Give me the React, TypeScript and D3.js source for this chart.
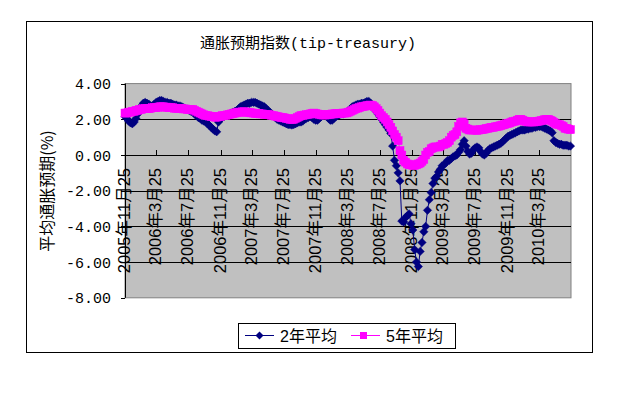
import React from "react";
import * as d3 from "d3";

const TITLE = "通胀预期指数(tip-treasury)";
const Y_TITLE = "平均通胀预期(%)";
const SERIES_NAMES = ["2年平均", "5年平均"];
const Y_TICKS = [4, 2, 0, -2, -4, -6, -8];
const X_DOMAIN = ["2005-11-25", "2010-07-25"];
const X_TICK_DATES = [
  "2005-11-25", "2006-03-25", "2006-07-25", "2006-11-25", "2007-03-25",
  "2007-07-25", "2007-11-25", "2008-03-25", "2008-07-25", "2008-11-25",
  "2009-03-25", "2009-07-25", "2009-11-25", "2010-03-25",
];
const X_TICK_LABELS = [
  "2005年11月25", "2006年3月25", "2006年7月25", "2006年11月25", "2007年3月25",
  "2007年7月25", "2007年11月25", "2008年3月25", "2008年7月25", "2008年11月25",
  "2009年3月25", "2009年7月25", "2009年11月25", "2010年3月25",
];
// weekly observations starting on this date
const FIRST_WEEK = "2005-11-25";
const DAYS_PER_STEP = 7;

const avg2y = [
  2.15, 2.05, 1.9, 1.8, 1.75, 1.85, 2.05, 2.3, 2.55, 2.75,
  2.9, 2.95, 2.9, 2.85, 2.75, 2.75, 2.85, 2.95, 3.0, 3.05,
  3.05, 3.0, 2.95, 2.95, 2.9, 2.9, 2.85, 2.8, 2.8, 2.75,
  2.75, 2.7, 2.65, 2.6, 2.55, 2.5, 2.45, 2.4, 2.3, 2.2,
  2.1, 2.05, 1.95, 1.9, 1.85, 1.75, 1.65, 1.55, 1.45, 1.35,
  1.3, 1.85, 2.0, 2.1, 2.15, 2.2, 2.25, 2.3, 2.35, 2.4,
  2.45, 2.5, 2.6, 2.7, 2.75, 2.8, 2.85, 2.9, 2.9, 2.95,
  2.95, 2.95, 2.9, 2.85, 2.8, 2.75, 2.7, 2.6, 2.5, 2.4,
  2.3, 2.2, 2.1, 2.0, 1.95, 1.9, 1.85, 1.8, 1.75, 1.7,
  1.7, 1.68, 1.7, 1.75, 1.8, 1.85, 1.85, 1.9, 2.0, 2.05,
  2.1, 2.15, 2.1, 2.0, 1.95, 1.95, 2.05, 2.15, 2.2, 2.25,
  2.2, 2.05, 1.95, 1.95, 2.05, 2.15, 2.2, 2.25, 2.3, 2.3,
  2.35, 2.4, 2.5, 2.6, 2.7, 2.75, 2.8, 2.85, 2.85, 2.9,
  2.9, 2.95, 3.0, 3.0, 2.9, 2.75, 2.6, 2.45, 2.3, 2.15,
  2.0, 1.85, 1.7, 1.55, 1.4, 1.2, 0.5, -0.3, -0.6, -1.0,
  -1.45, -3.7, -3.75, -3.5, -3.4, -3.3, -3.85, -4.2, -5.3, -6.0,
  -6.25, -5.4, -4.9, -4.3, -4.0, -3.1, -2.5, -2.1, -1.6, -1.3,
  -1.2, -0.95, -0.8, -0.6, -0.55, -0.45, -0.3, -0.3, -0.2, -0.1,
  -0.05, 0.0, 0.15, 0.3, 0.6, 0.8, 0.5, 0.2, 0.05, 0.1,
  0.3, 0.4, 0.45, 0.4, 0.2, 0.05, 0.0, 0.1, 0.25, 0.35,
  0.4, 0.45, 0.5, 0.55, 0.6, 0.65, 0.75, 0.85, 0.95, 1.05,
  1.1, 1.15, 1.2, 1.25, 1.3, 1.35, 1.4, 1.4, 1.4, 1.45,
  1.45, 1.5, 1.5, 1.55, 1.55, 1.6, 1.6, 1.6, 1.55, 1.5,
  1.45, 1.4, 1.35, 1.25, 0.8, 0.7, 0.65, 0.6, 0.6, 0.55,
  0.55, 0.55, 0.5, 0.5,
];

const avg5y = [
  2.35, 2.35, 2.4, 2.4, 2.45, 2.45, 2.5, 2.5, 2.55, 2.55,
  2.6, 2.6, 2.6, 2.6, 2.62, 2.65, 2.65, 2.65, 2.68, 2.7,
  2.7, 2.7, 2.68, 2.68, 2.65, 2.65, 2.65, 2.62, 2.62, 2.6,
  2.6, 2.6, 2.58, 2.58, 2.55, 2.55, 2.55, 2.55, 2.5, 2.45,
  2.4, 2.35, 2.3, 2.25, 2.22, 2.2, 2.18, 2.15, 2.15, 2.12,
  2.12, 2.15, 2.15, 2.2, 2.2, 2.22, 2.25, 2.28, 2.3, 2.32,
  2.35, 2.38, 2.4, 2.4, 2.42, 2.42, 2.4, 2.4, 2.38, 2.36,
  2.35, 2.33, 2.33, 2.32, 2.3, 2.3, 2.28, 2.27, 2.26, 2.25,
  2.22, 2.2, 2.18, 2.15, 2.13, 2.1, 2.1, 2.08, 2.05, 2.03,
  2.0, 2.0, 2.0, 2.05, 2.1, 2.15, 2.2, 2.22, 2.24, 2.26,
  2.28, 2.3, 2.33, 2.35, 2.33, 2.3, 2.28, 2.25, 2.24, 2.24,
  2.25, 2.27, 2.28, 2.3, 2.3, 2.32, 2.33, 2.33, 2.34, 2.35,
  2.35, 2.36, 2.4, 2.45, 2.5, 2.55, 2.6, 2.63, 2.66, 2.7,
  2.72, 2.74, 2.76, 2.78, 2.8, 2.78, 2.7, 2.6, 2.5, 2.35,
  2.2, 2.1, 2.0, 1.85, 1.7, 1.55, 1.35, 1.15, 1.0, 0.8,
  0.25, 0.0, -0.3, -0.4, -0.5, -0.55, -0.55, -0.58, -0.58, -0.55,
  -0.5, -0.45, -0.35, -0.25, 0.0, 0.15, 0.2, 0.35, 0.4, 0.45,
  0.45, 0.45, 0.5, 0.6, 0.6, 0.65, 0.7, 0.8, 1.0, 1.1,
  1.15, 1.3, 1.6, 1.8, 1.85, 1.75, 1.5, 1.45, 1.4, 1.4,
  1.4, 1.4, 1.38, 1.4, 1.42, 1.42, 1.45, 1.48, 1.5, 1.52,
  1.55, 1.55, 1.58, 1.6, 1.62, 1.65, 1.68, 1.7, 1.75, 1.78,
  1.8, 1.85, 1.88, 1.9, 1.95, 2.0, 2.0, 1.95, 1.9, 1.88,
  1.85, 1.85, 1.85, 1.85, 1.87, 1.88, 1.9, 1.92, 1.95, 1.98,
  2.0, 2.0, 1.95, 1.9, 1.82, 1.75, 1.72, 1.7, 1.65, 1.6,
  1.5, 1.48, 1.45, 1.42,
];

const NAVY = "#000080";
const MAGENTA = "#FF00FF";
const CJK = "'Noto Sans CJK SC', sans-serif";
const MONO = "'Liberation Mono', 'Noto Sans CJK SC', monospace";
const SANS = "'Liberation Sans', 'Noto Sans CJK SC', sans-serif";

const parse = d3.timeParse("%Y-%m-%d");

export default function App() {
  const W = 640;
  const H = 400;
  const pl = 125, pr = 571, pt = 83.6, pb = 297.8;

  const x = d3.scaleTime().domain(X_DOMAIN.map((d) => parse(d) as Date)).range([pl, pr]);
  const y = d3.scaleLinear().domain([-8, 4]).range([pb, pt]);

  const start = parse(FIRST_WEEK) as Date;
  const dates = avg2y.map((_, i) => d3.timeDay.offset(start, i * DAYS_PER_STEP));
  const s2 = avg2y.map((v, i) => ({ d: dates[i], v }));
  const s5 = avg5y.map((v, i) => ({ d: dates[i], v }));

  const line = d3
    .line<{ d: Date; v: number }>()
    .x((p) => x(p.d))
    .y((p) => y(p.v));

  const diamond = (cx: number, cy: number, r: number) =>
    `M${cx},${cy - r}L${cx + r},${cy}L${cx},${cy + r}L${cx - r},${cy}Z`;

  const y0 = y(0);
  const legendY = 335.5;

  return (
    <svg
      width={W}
      height={H}
      style={{ position: "absolute", left: 0, top: 0, display: "block", background: "#fff" }}
    >
      <rect x={26.5} y={21.5} width={566} height={331} fill="#fff" stroke="#000" strokeWidth={1} />
      <text x={308} y={48} textAnchor="middle" fontFamily={MONO} fontSize={15} fill="#000">
        {TITLE}
      </text>

      {/* plot area */}
      <rect x={pl} y={pt} width={pr - pl} height={pb - pt} fill="#C0C0C0" stroke="#808080" strokeWidth={1} />
      {Y_TICKS.filter((t) => t !== 4 && t !== -8).map((t) => (
        <line key={"g" + t} x1={pl} x2={pr} y1={Math.round(y(t)) + 0.5} y2={Math.round(y(t)) + 0.5} stroke="#000" strokeWidth={1} />
      ))}
      {/* y axis */}
      <line x1={pl + 0.5} x2={pl + 0.5} y1={pt} y2={pb} stroke="#000" strokeWidth={1} />
      {Y_TICKS.map((t) => (
        <g key={"yt" + t}>
          <line x1={pl - 4} x2={pl} y1={Math.round(y(t)) + 0.5} y2={Math.round(y(t)) + 0.5} stroke="#000" />
          <text x={111} y={y(t) + 5.5} textAnchor="end" fontFamily={MONO} fontSize={15} fill="#000">
            {t.toFixed(2)}
          </text>
        </g>
      ))}
      {/* x axis ticks & labels */}
      {X_TICK_DATES.map((ds, i) => {
        const tx = x(parse(ds) as Date);
        return (
          <g key={"xt" + ds}>
            <line x1={Math.round(tx) + 0.5} x2={Math.round(tx) + 0.5} y1={y0 - 5} y2={y0} stroke="#000" />
            <text
              transform={`translate(${tx + 5},168) rotate(-90)`}
              textAnchor="end"
              fontFamily={SANS}
              fontSize={16.5}
              fill="#000"
            >
              {X_TICK_LABELS[i]}
            </text>
          </g>
        );
      })}

      {/* y title */}
      <text
        transform={`translate(53,191) rotate(-90)`}
        textAnchor="middle"
        fontFamily={CJK}
        fontSize={16}
        fill="#000"
      >
        {Y_TITLE}
      </text>

      {/* series 2y */}
      <path d={line(s2) || ""} fill="none" stroke={NAVY} strokeWidth={1} />
      {s2.map((p, i) => (
        <path key={"m2" + i} d={diamond(x(p.d), y(p.v), 4.2)} fill={NAVY} stroke={NAVY} strokeWidth={0.5} />
      ))}
      {/* series 5y */}
      <path d={line(s5) || ""} fill="none" stroke={MAGENTA} strokeWidth={1} />
      {s5.map((p, i) => (
        <rect key={"m5" + i} x={x(p.d) - 4} y={y(p.v) - 4} width={8} height={8} fill={MAGENTA} stroke={MAGENTA} strokeWidth={0.5} />
      ))}

      {/* legend */}
      <rect x={238.5} y={323.5} width={217} height={25} fill="#fff" stroke="#000" strokeWidth={1} />
      <line x1={245} x2={274} y1={legendY} y2={legendY} stroke={NAVY} strokeWidth={1} />
      <path d={diamond(259.5, legendY, 4)} fill={NAVY} />
      <text x={280} y={legendY + 6} fontFamily={SANS} fontSize={16} fill="#000">
        {SERIES_NAMES[0]}
      </text>
      <line x1={351} x2={380} y1={legendY} y2={legendY} stroke={MAGENTA} strokeWidth={1} />
      <rect x={363.5 - 3.5} y={legendY - 3.5} width={7} height={7} fill={MAGENTA} />
      <text x={386} y={legendY + 6} fontFamily={SANS} fontSize={16} fill="#000">
        {SERIES_NAMES[1]}
      </text>
    </svg>
  );
}
